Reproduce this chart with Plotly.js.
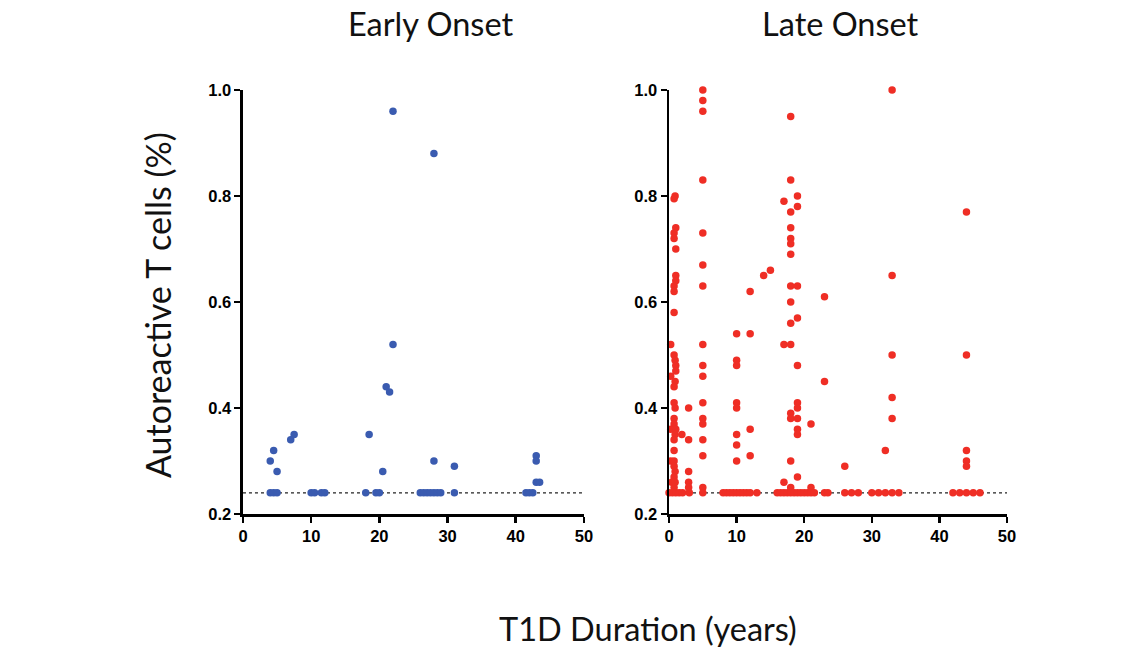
<!DOCTYPE html>
<html>
<head>
<meta charset="utf-8">
<script src="https://cdn.plot.ly/plotly-3.0.1.min.js"></script>
<style>html,body{margin:0;padding:0;background:#fff;}#chart{width:1145px;height:649px;}</style>
</head>
<body>
<div id="chart"></div>
<script>
// ---- Data ----
const panelTitles = ["Early Onset", "Late Onset"];
const xTitle = "T1D Duration (years)";
const yTitle = "Autoreactive T cells (%)";
const threshold = 0.24;
const xTicks = [0, 10, 20, 30, 40, 50];
const yTicks = [0.2, 0.4, 0.6, 0.8, 1.0];

const earlyX = [4, 4.5, 5, 10, 10.5, 11.5, 12, 18, 19.5, 20, 26, 26.5, 27, 27.5, 28, 28.5, 29, 31, 41.5, 42, 42.5,
  4, 4.5, 5, 7, 7.5, 18.5, 20.5, 21, 21.5, 22, 22, 28, 28, 31, 43, 43, 43, 43.5];
const earlyY = [0.24, 0.24, 0.24, 0.24, 0.24, 0.24, 0.24, 0.24, 0.24, 0.24, 0.24, 0.24, 0.24, 0.24, 0.24, 0.24, 0.24, 0.24, 0.24, 0.24, 0.24,
  0.30, 0.32, 0.28, 0.34, 0.35, 0.35, 0.28, 0.44, 0.43, 0.52, 0.96, 0.88, 0.30, 0.29, 0.31, 0.30, 0.26, 0.26];

const lateX = [
  // near onset column (~1 yr)
  0.9, 0.75, 1.0, 0.75, 0.75, 1.0, 1.0, 1.0, 0.75, 0.75,
  0.75, 0.25, 0.75, 0.9, 1.0, 1.0, 0.25, 0.9, 0.75, 0.75, 0.9, 0.75, 0.75, 0.25, 1.0, 0.9, 0.75, 0.75,
  0.25, 0.75, 0.75, 0.9, 0.75, 0.4, 0.9, 0.75,
  0, 0.5, 1, 1.5, 2,
  1.9, 2.9, 2.9, 2.9, 2.9, 2.9, 3,
  // 5 yr column
  5, 5, 5, 5, 5, 5, 5, 5, 5, 5, 5, 5, 5, 5, 5, 5, 5,
  // 10 yr column
  10, 10, 10, 10, 10, 10, 10, 10,
  8, 8.5, 9, 9.5, 10, 10.5, 11, 11.5, 12, 13,
  12, 12, 12, 12,
  14, 15,
  17, 17, 17,
  18, 18, 18, 18, 18, 18, 18, 18, 18, 18, 18, 18, 18, 18, 18,
  19, 19, 19, 19, 19, 19, 19, 19, 19, 19, 19,
  21, 21, 23, 23, 26,
  16, 16.5, 17, 17.5, 18, 18.5, 19, 19.5, 20, 20.5, 21, 21.5, 23, 23.5, 26, 27, 28, 30, 31, 32, 33, 34,
  32, 33, 33, 33, 33, 33,
  44, 44, 44, 44, 44,
  42, 43, 44, 45, 46
];
const lateY = [
  0.80, 0.795, 0.74, 0.73, 0.72, 0.70, 0.65, 0.64, 0.63, 0.62,
  0.58, 0.52, 0.50, 0.49, 0.48, 0.47, 0.46, 0.45, 0.44, 0.41, 0.40, 0.38, 0.37, 0.36, 0.36, 0.35, 0.34, 0.32,
  0.30, 0.30, 0.29, 0.28, 0.27, 0.26, 0.26, 0.25,
  0.24, 0.24, 0.24, 0.24, 0.24,
  0.35, 0.40, 0.34, 0.28, 0.26, 0.25, 0.24,
  1.00, 0.98, 0.96, 0.83, 0.73, 0.67, 0.63, 0.52, 0.48, 0.46, 0.41, 0.38, 0.37, 0.34, 0.31, 0.25, 0.24,
  0.54, 0.49, 0.48, 0.41, 0.40, 0.35, 0.33, 0.30,
  0.24, 0.24, 0.24, 0.24, 0.24, 0.24, 0.24, 0.24, 0.24, 0.24,
  0.62, 0.54, 0.36, 0.31,
  0.65, 0.66,
  0.79, 0.52, 0.26,
  0.95, 0.83, 0.77, 0.74, 0.72, 0.71, 0.69, 0.63, 0.60, 0.56, 0.52, 0.39, 0.38, 0.30, 0.25,
  0.80, 0.78, 0.63, 0.57, 0.48, 0.41, 0.40, 0.38, 0.36, 0.35, 0.27,
  0.37, 0.25, 0.61, 0.45, 0.29,
  0.24, 0.24, 0.24, 0.24, 0.24, 0.24, 0.24, 0.24, 0.24, 0.24, 0.24, 0.24, 0.24, 0.24, 0.24, 0.24, 0.24, 0.24, 0.24, 0.24, 0.24, 0.24,
  0.32, 1.00, 0.65, 0.50, 0.42, 0.38,
  0.77, 0.50, 0.32, 0.30, 0.29,
  0.24, 0.24, 0.24, 0.24, 0.24
];

// ---- Styles ----
const blue = '#3a5bb0';
const red = '#ef2e25';
const titleFont = {family: 'Lato, "Open Sans", sans-serif', size: 32.5, color: '#111'};
const yTitleFont = {family: 'Lato, "Open Sans", sans-serif', size: 34, color: '#111'};
const tickFont = {family: '"Liberation Sans", Arial, sans-serif', size: 16.5, color: '#000', weight: 'bold'};

const traces = [
  {x: [0, 50], y: [threshold, threshold], xaxis: 'x', yaxis: 'y', mode: 'lines',
   line: {color: '#222', width: 1.2, dash: 'dot'}, hoverinfo: 'skip', showlegend: false},
  {x: [0, 50], y: [threshold, threshold], xaxis: 'x2', yaxis: 'y2', mode: 'lines',
   line: {color: '#222', width: 1.2, dash: 'dot'}, hoverinfo: 'skip', showlegend: false},
  {x: earlyX, y: earlyY, xaxis: 'x', yaxis: 'y', type: 'scatter', mode: 'markers',
   marker: {color: blue, size: 7.5}, cliponaxis: false, showlegend: false},
  {x: lateX, y: lateY, xaxis: 'x2', yaxis: 'y2', type: 'scatter', mode: 'markers',
   marker: {color: red, size: 7.5}, cliponaxis: false, showlegend: false}
];

function xAxis(domain, anchor) {
  return {domain: domain, anchor: anchor, range: [0, 50], tickvals: xTicks, ticktext: xTicks.map(String),
    showline: true, linecolor: '#000', linewidth: 2.5, ticks: 'outside', ticklen: 6, tickwidth: 2.5,
    tickcolor: '#000', showgrid: false, zeroline: false, tickfont: tickFont, fixedrange: true};
}
function yAxis(anchor) {
  return {domain: [0.2080, 0.8613], anchor: anchor, range: [0.2, 1.0], tickvals: yTicks,
    ticktext: yTicks.map(v => v.toFixed(1)),
    showline: true, linecolor: '#000', linewidth: 2.5, ticks: 'outside', ticklen: 6, tickwidth: 2.5,
    tickcolor: '#000', showgrid: false, zeroline: false, tickfont: tickFont, fixedrange: true};
}

const layout = {
  width: 1145, height: 649,
  margin: {l: 0, r: 0, t: 0, b: 0},
  paper_bgcolor: '#fff', plot_bgcolor: '#fff',
  showlegend: false,
  xaxis: xAxis([0.2122, 0.5100], 'y'),
  yaxis: yAxis('x'),
  xaxis2: xAxis([0.5843, 0.8795], 'y2'),
  yaxis2: yAxis('x2'),
  annotations: [
    {text: panelTitles[0], xref: 'paper', yref: 'paper', x: 430 / 1145, y: 1 - 24 / 649,
     xanchor: 'center', yanchor: 'middle', showarrow: false, font: titleFont},
    {text: panelTitles[1], xref: 'paper', yref: 'paper', x: 840 / 1145, y: 1 - 24 / 649,
     xanchor: 'center', yanchor: 'middle', showarrow: false, font: titleFont},
    {text: yTitle, xref: 'paper', yref: 'paper', x: 157 / 1145, y: 1 - 305 / 649, textangle: -90,
     xanchor: 'center', yanchor: 'middle', showarrow: false, font: yTitleFont},
    {text: xTitle, xref: 'paper', yref: 'paper', x: 648 / 1145, y: 1 - 628 / 649,
     xanchor: 'center', yanchor: 'middle', showarrow: false, font: titleFont}
  ]
};

Plotly.newPlot('chart', traces, layout, {staticPlot: true, displayModeBar: false});
</script>
</body>
</html>
